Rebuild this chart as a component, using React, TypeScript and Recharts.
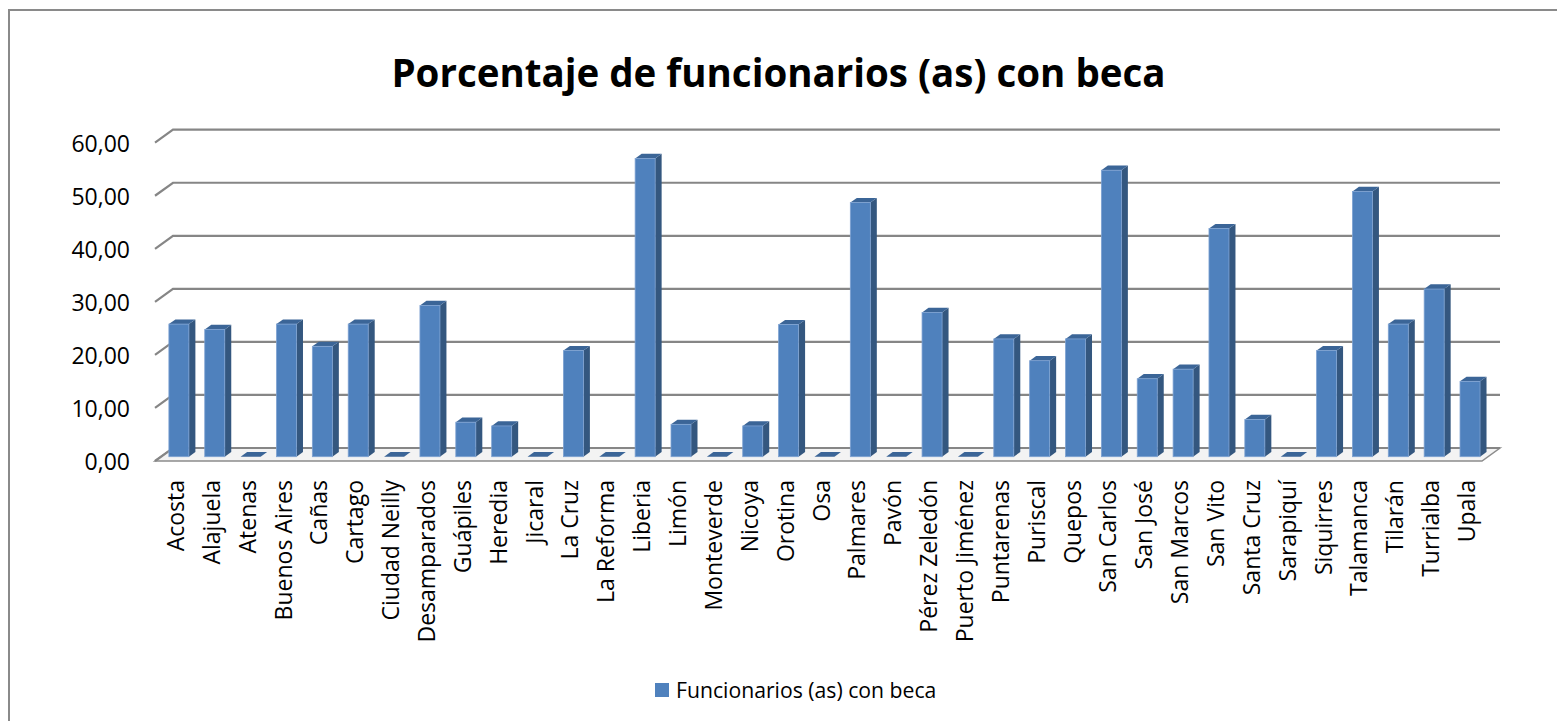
import React from 'react';
import { BarChart, Bar, XAxis, YAxis, CartesianGrid } from 'recharts';

const categories = [
  'Acosta', 'Alajuela', 'Atenas', 'Buenos Aires', 'Cañas', 'Cartago', 'Ciudad Neilly',
  'Desamparados', 'Guápiles', 'Heredia', 'Jicaral', 'La Cruz', 'La Reforma', 'Liberia',
  'Limón', 'Monteverde', 'Nicoya', 'Orotina', 'Osa', 'Palmares', 'Pavón', 'Pérez Zeledón',
  'Puerto Jiménez', 'Puntarenas', 'Puriscal', 'Quepos', 'San Carlos', 'San José',
  'San Marcos', 'San Vito', 'Santa Cruz', 'Sarapiquí', 'Siquirres', 'Talamanca',
  'Tilarán', 'Turrialba', 'Upala',
];

const becaValues = [
  25.0, 24.0, 0, 25.0, 20.8, 25.0, 0, 28.5, 6.5, 5.8, 0, 20.0, 0, 56.2, 6.1, 0, 5.8, 24.9,
  0, 47.9, 0, 27.2, 0, 22.2, 18.1, 22.2, 54.0, 14.7, 16.5, 43.0, 7.0, 0, 20.0, 50.0, 25.0,
  31.6, 14.2,
];

const yTicks = [0, 10, 20, 30, 40, 50, 60];

const seriesName = 'Funcionarios (as) con beca';
const chartTitle = 'Porcentaje de funcionarios (as) con beca';

const data = categories.map((name, i) => ({ name, beca: becaValues[i] }));

// perspective of the back wall
const DX = 18;
const DY = -13;
const FONT = '"Open Sans", sans-serif';

const fmt = (v: number) => v.toFixed(2).replace('.', ',');

const GridLine = (props: any) => {
  const { x1, y1, x2, y, height } = props;
  const isFloor = Math.abs(y1 - (y + height)) < 0.5;
  return (
    <g>
      {isFloor && (
        <polygon
          points={`${x1},${y1} ${x2},${y1} ${x2 + DX},${y1 + DY} ${x1 + DX},${y1 + DY}`}
          fill="#f3f3f3"
          stroke="#8c8c8c"
          strokeWidth={1.5}
        />
      )}
      <path
        d={`M${x1},${y1} L${x1 + DX},${y1 + DY} L${x2 + DX},${y1 + DY}`}
        fill="none"
        stroke="#868686"
        strokeWidth={2.2}
      />
    </g>
  );
};

const Bar3D = (props: any) => {
  const { x, y, width, height } = props;
  const fx = x + 6;
  const fy = y - 4.3;
  const h = Math.max(height, 0);
  const dx = 6.5;
  const dy = -4.7;
  return (
    <g>
      <polygon
        points={`${fx + width},${fy} ${fx + width + dx},${fy + dy} ${fx + width + dx},${fy + h + dy} ${fx + width},${fy + h}`}
        fill="#34577f"
      />
      <polygon
        points={`${fx},${fy} ${fx + width},${fy} ${fx + width + dx},${fy + dy} ${fx + dx},${fy + dy}`}
        fill="#3b6597"
      />
      {h > 0 && (
        <rect x={fx} y={fy} width={width} height={h} fill="#4f81bd" stroke="#7ea2d2" strokeWidth={0.8} />
      )}
    </g>
  );
};

const YTick = (props: any) => {
  const { y, payload } = props;
  return (
    <text x={130} y={y} textAnchor="end" dominantBaseline="central" fontFamily={FONT} fontSize={23} fill="#000">
      {fmt(payload.value)}
    </text>
  );
};

const XTick = (props: any) => {
  const { x, payload } = props;
  const tx = x + 2;
  const ty = 480;
  return (
    <text
      x={tx}
      y={ty}
      transform={`rotate(-90 ${tx} ${ty})`}
      textAnchor="end"
      dominantBaseline="central"
      fontFamily={FONT}
      fontSize={23}
      fill="#000"
    >
      {payload.value}
    </text>
  );
};

export default function App() {
  return (
    <div style={{ position: 'absolute', left: 0, top: 0, width: 1557, height: 721, overflow: 'hidden', background: '#fff' }}>
      <div
        style={{
          position: 'absolute', left: 8, top: 9, width: 1600, height: 800,
          borderLeft: '2px solid #8a8a8a', borderTop: '2px solid #8a8a8a',
        }}
      />
      <div
        style={{
          position: 'absolute', left: 0, top: 46, width: 1557, textAlign: 'center',
          fontFamily: FONT, fontWeight: 700, fontSize: 38.5, lineHeight: '52px', color: '#000',
        }}
      >
        {chartTitle}
      </div>
      <div style={{ position: 'absolute', left: 0, top: 0 }}>
        <BarChart
          width={1557}
          height={721}
          data={data}
          margin={{ top: 142.7, right: 75, bottom: 0, left: 0 }}
          barCategoryGap="22%"
        >
          <CartesianGrid vertical={false} horizontal={GridLine} />
          <XAxis dataKey="name" interval={0} height={260} axisLine={false} tickLine={false} tick={XTick} />
          <YAxis
            width={155}
            domain={[0, 60]}
            ticks={yTicks}
            axisLine={false}
            tickLine={false}
            tick={YTick}
          />
          <Bar dataKey="beca" name={seriesName} shape={Bar3D} isAnimationActive={false} />
        </BarChart>
      </div>
      <div style={{ position: 'absolute', left: 655, top: 683, width: 14, height: 14, background: '#4f81bd' }} />
      <div
        style={{
          position: 'absolute', left: 676, top: 675, fontFamily: FONT, fontSize: 21.2,
          lineHeight: '30px', color: '#000', whiteSpace: 'nowrap',
        }}
      >
        {seriesName}
      </div>
    </div>
  );
}
